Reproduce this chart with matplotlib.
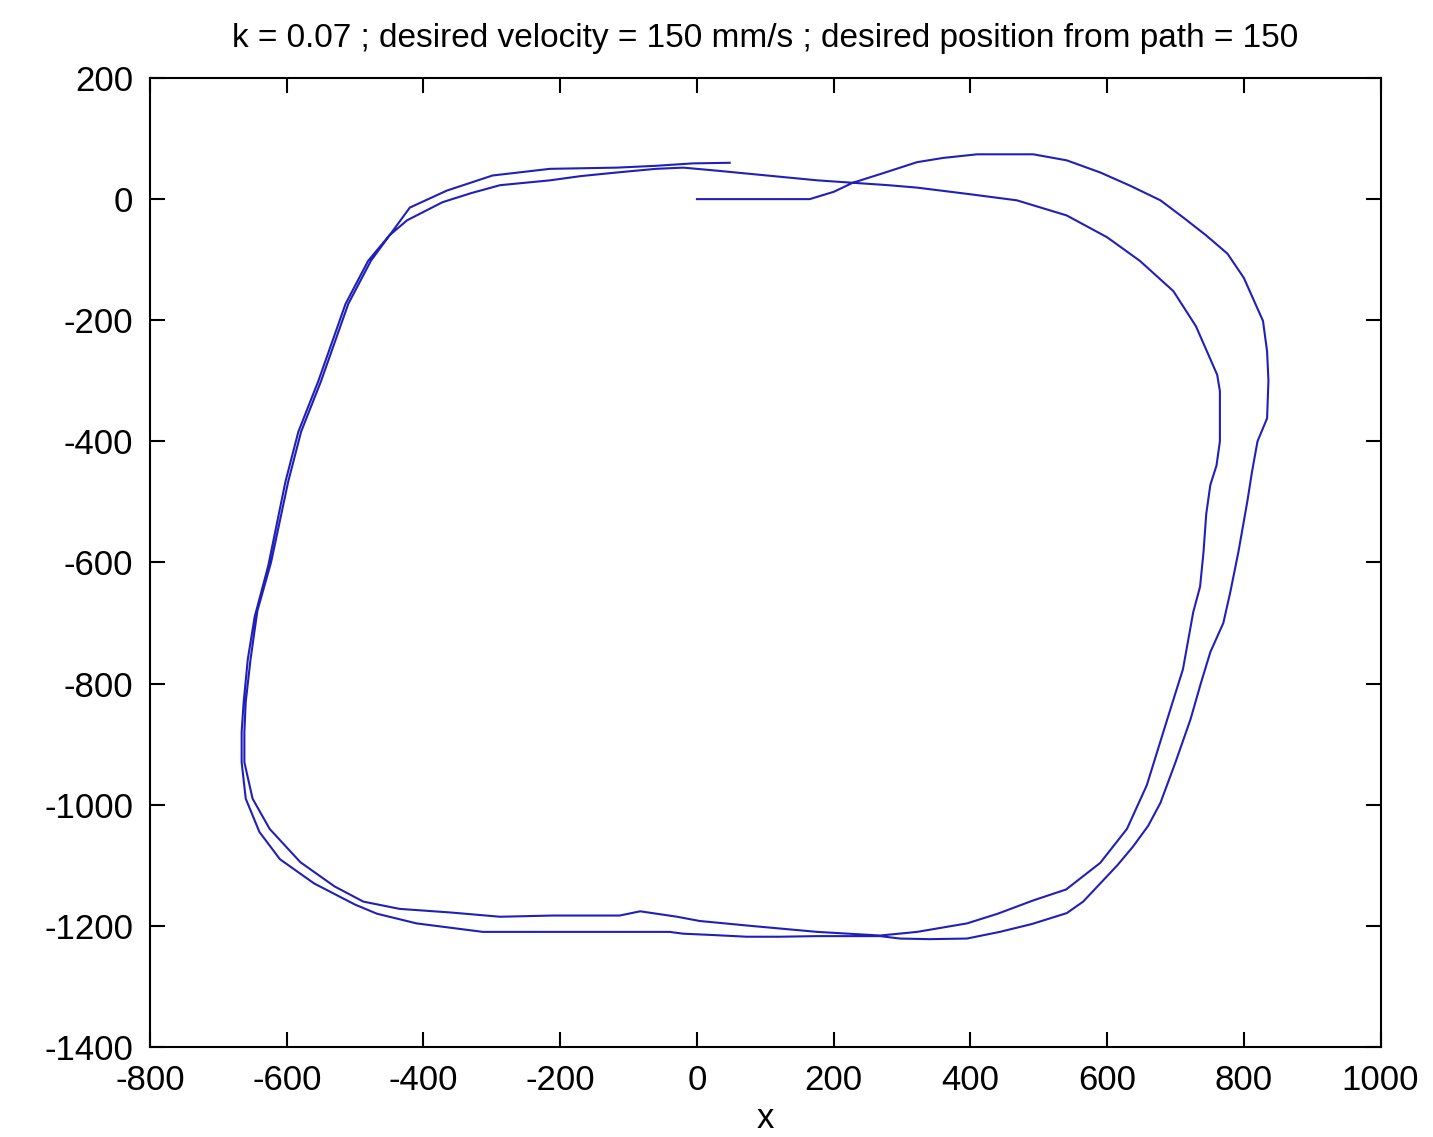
import numpy as np
import matplotlib
matplotlib.use("Agg")
import matplotlib.pyplot as plt
from matplotlib import font_manager

# === FONT ===
names = {f.name for f in font_manager.fontManager.ttflist}
font = "Liberation Sans Narrow" if "Liberation Sans Narrow" in names else "Liberation Sans"
plt.rcParams['font.family'] = [font, 'DejaVu Sans']
plt.rcParams['axes.unicode_minus'] = False

# === DATA ===
title = "k = 0.07 ; desired velocity = 150 mm/s ; desired position from path = 150"

# first lap: start at origin, outer loop on the right
loop1_x = [0, 50, 100, 165, 200, 228, 270, 322, 360, 410, 450, 492, 541, 590, 634, 678,
           711, 745, 776, 800, 828, 834, 836, 834, 820, 812, 805, 792, 780, 770, 751, 737,
           722, 700, 678, 660, 638, 615, 590, 565, 541, 490, 443, 395, 340, 297, 268, 220,
           176, 120, 73, 20, -20, -40, -100, -200, -313, -376, -410, -468, -500, -560, -610,
           -640, -660, -666, -666, -663, -657, -647, -627, -602, -583, -554, -514, -481, -450,
           -424, -372, -330, -288, -215, -170, -117, -60, -20, 29]
loop1_y = [0, 0, 0, 0, 12, 27, 42, 61, 68, 74, 74, 74, 64, 44, 22, -2,
           -30, -60, -90, -130, -201, -251, -300, -362, -400, -450, -500, -583, -650, -700, -748, -800,
           -859, -930, -997, -1035, -1069, -1100, -1130, -1160, -1179, -1197, -1210, -1221, -1222, -1221, -1217, -1217,
           -1217, -1218, -1218, -1215, -1213, -1210, -1210, -1210, -1210, -1201, -1196, -1180, -1165, -1130, -1090,
           -1045, -990, -930, -880, -830, -760, -690, -605, -467, -384, -301, -173, -102, -60,
           -35, -5, 10, 23, 31, 38, 44, 50, 52, 47]

# second lap: inner loop on the right, ends near the start
loop2_x = [102, 176, 228, 280, 322, 400, 468, 541, 600, 648, 697, 730, 761, 765, 765, 760,
           751, 745, 741, 736, 726, 711, 688, 658, 629, 590, 540, 492, 440, 395, 322, 268,
           176, 78, 4, -29, -83, -113, -211, -288, -360, -435, -488, -530, -580, -625, -650,
           -662, -662, -660, -653, -643, -623, -598, -579, -550, -510, -477, -440, -420, -366,
           -299, -215, -117, -60, -6, 48]
loop2_y = [39, 31, 27, 23, 19, 8, -2, -27, -63, -102, -152, -210, -290, -317, -400, -440,
           -472, -520, -583, -640, -682, -776, -859, -968, -1040, -1096, -1140, -1158, -1180, -1196, -1210, -1216,
           -1210, -1200, -1192, -1185, -1176, -1183, -1183, -1185, -1178, -1172, -1160, -1135, -1095, -1040, -990,
           -930, -880, -830, -760, -680, -600, -467, -384, -301, -173, -102, -45, -14, 14,
           39, 50, 52, 55, 59, 60]

x_ticks = [-800, -600, -400, -200, 0, 200, 400, 600, 800, 1000]
y_ticks = [-1400, -1200, -1000, -800, -600, -400, -200, 0, 200]

path_x = loop1_x + loop2_x
path_y = loop1_y + loop2_y

# === PLOT ===
fig = plt.figure(figsize=(14.33, 11.37), dpi=100)
ax = fig.add_axes([0.1047, 0.0792, 0.8587, 0.8522])
ax.plot(path_x, path_y, color='#2020b8', linewidth=1.5)

ax.set_xlim(-800, 1000)
ax.set_ylim(-1400, 200)
ax.set_xticks(x_ticks)
ax.set_yticks(y_ticks)
ax.tick_params(direction='in', length=11, width=1.5, top=True, right=True,
               labelsize=25, pad=12)
for s in ax.spines.values():
    s.set_linewidth(1.5)

ax.set_xlabel("x", fontsize=25, labelpad=4)
ax.set_title(title, fontsize=24, pad=22)

fig.savefig("out.png", dpi=100, facecolor='white')
